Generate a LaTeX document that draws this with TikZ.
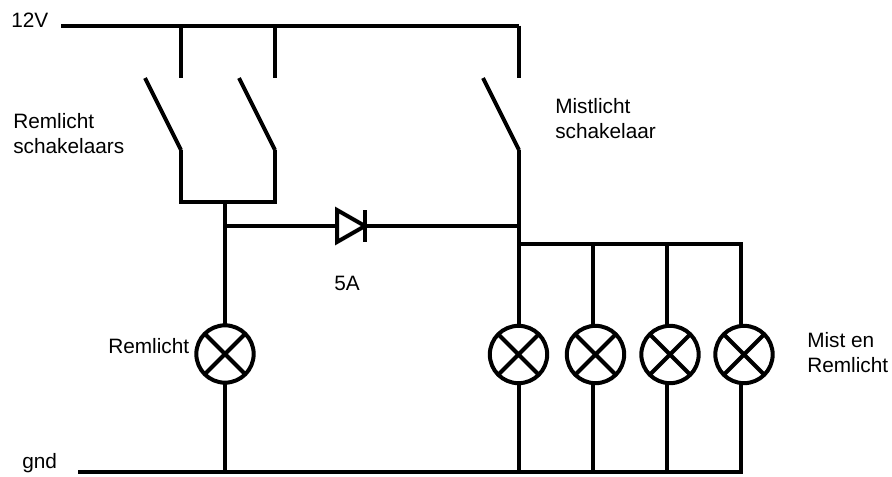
\documentclass[tikz,border=0pt]{standalone}
\usepackage{fontspec}
\setmainfont{Liberation Sans}
\tikzset{
  wire/.style={line width=3pt, line cap=butt, line join=miter},
  lamp/.style={circle, draw, line width=3pt, minimum size=43pt, inner sep=0pt, outer sep=0pt,
    path picture={\draw[line width=3pt] (path picture bounding box.north west) -- (path picture bounding box.south east)
      (path picture bounding box.north east) -- (path picture bounding box.south west);}},
  label/.style={anchor=west, align=left, inner sep=0pt, font=\fontsize{15.6}{18.75}\selectfont}
}
\begin{document}
\begin{tikzpicture}[x=0.75pt, y=-0.75pt]
        \useasboundingbox (0, 0) rectangle (892, 476);

        % supply rails
        \coordinate (vcc) at (61, 25.5);
        \coordinate (vccend) at (519, 25.5);
        \coordinate (gnd) at (78, 472);
        \coordinate (gndend) at (742.5, 472);
        \draw[wire] (vcc) -- (vccend);
        \draw[wire] (gnd) -- (gndend);

        % brake switches
        \coordinate (swatop) at (181, 25.5);
        \coordinate (swbtop) at (275, 25.5);
        \coordinate (swaopen) at (181, 78);
        \coordinate (swbopen) at (275, 78);
        \coordinate (swaarm) at (145, 78);
        \coordinate (swbarm) at (239, 78);
        \coordinate (swapole) at (181, 150);
        \coordinate (swbpole) at (275, 150);
        \coordinate (swajoin) at (181, 202);
        \coordinate (swbjoin) at (275, 202);
        \coordinate (brake) at (225, 202);
        \draw[wire] (swatop) -- (swaopen);
        \draw[wire] (swbtop) -- (swbopen);
        \draw[wire] (swaarm) -- (swapole);
        \draw[wire] (swbarm) -- (swbpole);
        \draw[wire] (swapole) -- (swajoin) -- (swbjoin) -- (swbpole);

        % fog switch
        \coordinate (fogopen) at (519, 78);
        \coordinate (fogarm) at (483, 78);
        \coordinate (fogpole) at (519, 150);
        \coordinate (fogjoin) at (519, 244);
        \draw[wire] (vccend) -- (fogopen);
        \draw[wire] (fogarm) -- (fogpole);
        \draw[wire] (fogpole) -- (fogjoin);

        % diode
        \coordinate (brakedio) at (225, 226);
        \coordinate (anode) at (337, 226);
        \coordinate (kathode) at (365, 226);
        \coordinate (fogdio) at (519, 226);
        \draw[wire] (brakedio) -- (anode);
        \draw[wire] (kathode) -- (fogdio);
        \draw[wire] (anode) ++(0, -16) -- (kathode) -- ++(-28, 16) -- cycle;
        \draw[wire] (kathode) ++(0, -16) -- ++(0, 32);

        % lamps
        \node[lamp] (lampbrake) at (225, 354) {};
        \node[lamp] (lampa) at (518.5, 354.5) {};
        \node[lamp] (lampb) at (595.5, 354.5) {};
        \node[lamp] (lampc) at (670, 354.5) {};
        \node[lamp] (lampd) at (744, 354.5) {};
        \coordinate (tapb) at (593, 244);
        \coordinate (tapc) at (667, 244);
        \coordinate (tapd) at (741, 244);
        \draw[wire] (brake) -- (lampbrake.north);
        \draw[wire] (lampbrake.south) -- (lampbrake.south |- gnd);
        \draw[wire] (fogjoin) -- (fogjoin |- lampa.north);
        \draw[wire] (fogjoin |- lampa.south) -- (fogjoin |- gnd);
        \draw[wire] (fogjoin) -- (tapd) -- (tapd |- lampd.north);
        \draw[wire] (tapb) -- (tapb |- lampb.north);
        \draw[wire] (tapc) -- (tapc |- lampc.north);
        \draw[wire] (tapb |- lampb.south) -- (tapb |- gnd);
        \draw[wire] (tapc |- lampc.south) -- (tapc |- gnd);
        \draw[wire] (tapd |- lampd.south) -- (tapd |- gnd);

        % labels
        \node[label] (vcclabel) at (11, 20) {12V};
        \node[label] (gndlabel) at (22, 463) {gnd};
        \node[label] (swlabel) at (13, 134) {Remlicht\\schakelaars};
        \node[label] (foglabel) at (555, 119) {Mistlicht\\schakelaar};
        \node[label] (diolabel) at (334, 283) {5A};
        \node[label] (brakelabel) at (108, 346) {Remlicht};
        \node[label] (lamplabel) at (807, 353) {Mist en\\Remlicht};
      \end{tikzpicture}
\end{document}
